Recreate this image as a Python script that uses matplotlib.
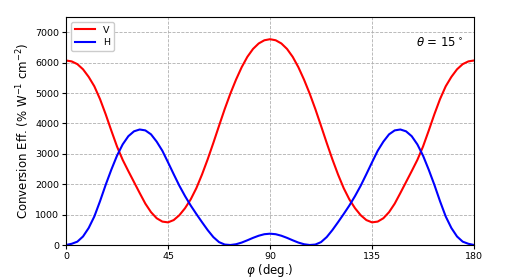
import numpy as np
import matplotlib
matplotlib.use("Agg")
import matplotlib.pyplot as plt

# polarization angle (deg.)
phi = [0, 2.5, 5, 7.5, 10, 12.5, 15, 17.5, 20, 22.5, 25, 27.5, 30, 32.5, 35, 37.5,
       40, 42.5, 45, 47.5, 50, 52.5, 55, 57.5, 60, 62.5, 65, 67.5, 70, 72.5, 75, 77.5,
       80, 82.5, 85, 87.5, 90, 92.5, 95, 97.5, 100, 102.5, 105, 107.5, 110, 112.5,
       115, 117.5, 120, 122.5, 125, 127.5, 130, 132.5, 135, 137.5, 140, 142.5, 145,
       147.5, 150, 152.5, 155, 157.5, 160, 162.5, 165, 167.5, 170, 172.5, 175, 177.5, 180]

# vertical polarization
eff_v = [6070, 6040, 5950, 5780, 5530, 5220, 4800, 4300, 3760, 3240, 2800, 2430,
         2070, 1710, 1360, 1080, 880, 770, 745, 820, 980, 1210, 1500, 1870, 2320,
         2820, 3360, 3920, 4470, 4980, 5440, 5850, 6190, 6450, 6630, 6735, 6770,
         6735, 6630, 6450, 6190, 5850, 5440, 4980, 4470, 3920, 3360, 2820, 2320,
         1870, 1500, 1210, 980, 820, 745, 770, 880, 1080, 1360, 1710, 2070, 2430,
         2800, 3240, 3760, 4300, 4800, 5220, 5530, 5780, 5950, 6040, 6070]

# horizontal polarization
eff_h = [0, 40, 110, 280, 560, 940, 1440, 1980, 2480, 2940, 3310, 3580, 3740, 3800,
         3770, 3640, 3400, 3100, 2720, 2330, 1950, 1610, 1300, 1020, 750, 490, 260,
         95, 15, 0, 25, 80, 155, 235, 305, 355, 372, 355, 305, 235, 155, 80, 25, 0,
         15, 95, 260, 490, 750, 1020, 1300, 1610, 1950, 2330, 2720, 3100, 3400, 3640,
         3770, 3800, 3740, 3580, 3310, 2940, 2480, 1980, 1440, 940, 560, 280, 110, 40, 0]

xticks = [0, 45, 90, 135, 180]
yticks = [0, 1000, 2000, 3000, 4000, 5000, 6000, 7000]

fig = plt.figure(figsize=(5.09, 2.78), dpi=100)
ax = fig.add_axes([0.1297, 0.1187, 0.8016, 0.8201])

ax.plot(phi, eff_v, color='red', lw=1.5, label='V')
ax.plot(phi, eff_h, color='blue', lw=1.5, label='H')

ax.set_xlim(0, 180)
ax.set_ylim(0, 7500)
ax.set_xticks(xticks)
ax.set_yticks(yticks)
ax.tick_params(labelsize=6.8, length=3, width=0.8, pad=2)
ax.grid(True, ls='--', color='#b0b0b0', lw=0.6)

ax.set_xlabel(r'$\varphi$ (deg.)', fontsize=8.5, labelpad=1)
ax.set_ylabel(r'Conversion Eff. (% W$^{-1}$ cm$^{-2}$)', fontsize=8.5, labelpad=2)
ax.text(0.973, 0.886, r'$\theta$ = 15$^\circ$', transform=ax.transAxes,
        ha='right', va='center', fontsize=8.5)

ax.legend(loc='upper left', fontsize=6.8, handlelength=2.2, borderpad=0.4,
          labelspacing=0.4, framealpha=1.0)

fig.savefig('out.png', dpi=100)
